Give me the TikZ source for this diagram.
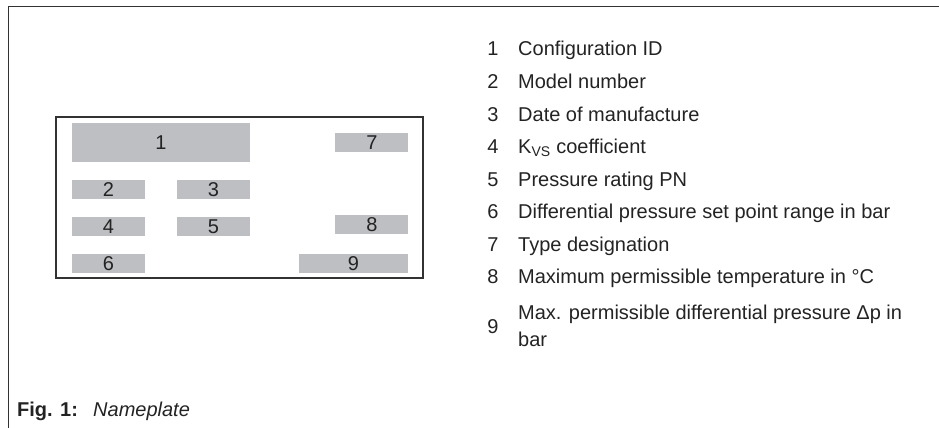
\documentclass[tikz,border=0pt]{standalone}
\usepackage{fontspec}
\setmainfont{Liberation Sans}
\definecolor{plategrey}{RGB}{190,191,195}
\definecolor{frameline}{RGB}{50,50,50}
\definecolor{txt}{RGB}{35,35,35}
\tikzset{
  fieldbox/.style={fill=plategrey, draw=none},
  fieldnum/.style={inner sep=0pt, text=txt, font=\fontsize{20}{20}\selectfont},
  legnum/.style={anchor=base, inner sep=0pt, text=txt, font=\fontsize{20}{22}\selectfont},
  legtxt/.style={anchor=base west, inner sep=0pt, text=txt, font=\fontsize{20}{22}\selectfont},
}
\begin{document}
\begin{tikzpicture}[x=1pt,y=-1pt]
\useasboundingbox (0,0) rectangle (939,428);
% outer frame
\draw[frameline, line width=1pt] (939,7) -- (8,7) -- (8,428);
% nameplate
\draw[frameline, line width=1.2pt] (56,117) rectangle (423,278);
\fill[fieldbox] (72,123) rectangle (250,162);
\node[fieldnum] (f1) at (161,142.5) {1};
\fill[fieldbox] (335,133) rectangle (408,152);
\node[fieldnum] (f7) at (372,142.5) {7};
\fill[fieldbox] (72,180) rectangle (145,199);
\node[fieldnum] (f2) at (108.5,189.5) {2};
\fill[fieldbox] (177,180) rectangle (250,199);
\node[fieldnum] (f3) at (213.5,189.5) {3};
\fill[fieldbox] (72,217) rectangle (145,236);
\node[fieldnum] (f4) at (108.5,226.5) {4};
\fill[fieldbox] (177,217) rectangle (250,236);
\node[fieldnum] (f5) at (213.5,226.5) {5};
\fill[fieldbox] (335,215) rectangle (408,234);
\node[fieldnum] (f8) at (372,224.5) {8};
\fill[fieldbox] (72,254) rectangle (145,273);
\node[fieldnum] (f6) at (108.5,263.5) {6};
\fill[fieldbox] (299,254) rectangle (408,273);
\node[fieldnum] (f9) at (353.5,263.5) {9};
% legend
\node[legnum] (n1) at (493,56) {1};
\node[legtxt] (t1) at (518,56) {Configuration ID};
\node[legnum] (n2) at (493,88.5) {2};
\node[legtxt] (t2) at (518,88.5) {Model number};
\node[legnum] (n3) at (493,121) {3};
\node[legtxt] (t3) at (518,121) {Date of manufacture};
\node[legnum] (n4) at (493,153.5) {4};
\node[legtxt] (t4) at (518,153.5) {K\textsubscript{VS} coefficient};
\node[legnum] (n5) at (493,186) {5};
\node[legtxt] (t5) at (518,186) {Pressure rating PN};
\node[legnum] (n6) at (493,218.5) {6};
\node[legtxt] (t6) at (518,218.5) {Differential pressure set point range in bar};
\node[legnum] (n7) at (493,251) {7};
\node[legtxt] (t7) at (518,251) {Type designation};
\node[legnum] (n8) at (493,283.5) {8};
\node[legtxt] (t8) at (518,283.5) {Maximum permissible temperature in °C};
\node[legnum] (n9) at (493,333) {9};
\node[legtxt] (t9a) at (518,319.5) {Max. permissible differential pressure Δp in};
\node[legtxt] (t9b) at (518,346.5) {bar};
% caption
\node[anchor=base west, inner sep=0pt, text=txt, font=\fontsize{20}{22}\selectfont\bfseries] (cap) at (17,416) {Fig. 1:};
\node[anchor=base west, inner sep=0pt, text=txt, font=\fontsize{20}{22}\selectfont\itshape] (capt) at (93,416) {Nameplate};
\end{tikzpicture}
\end{document}
